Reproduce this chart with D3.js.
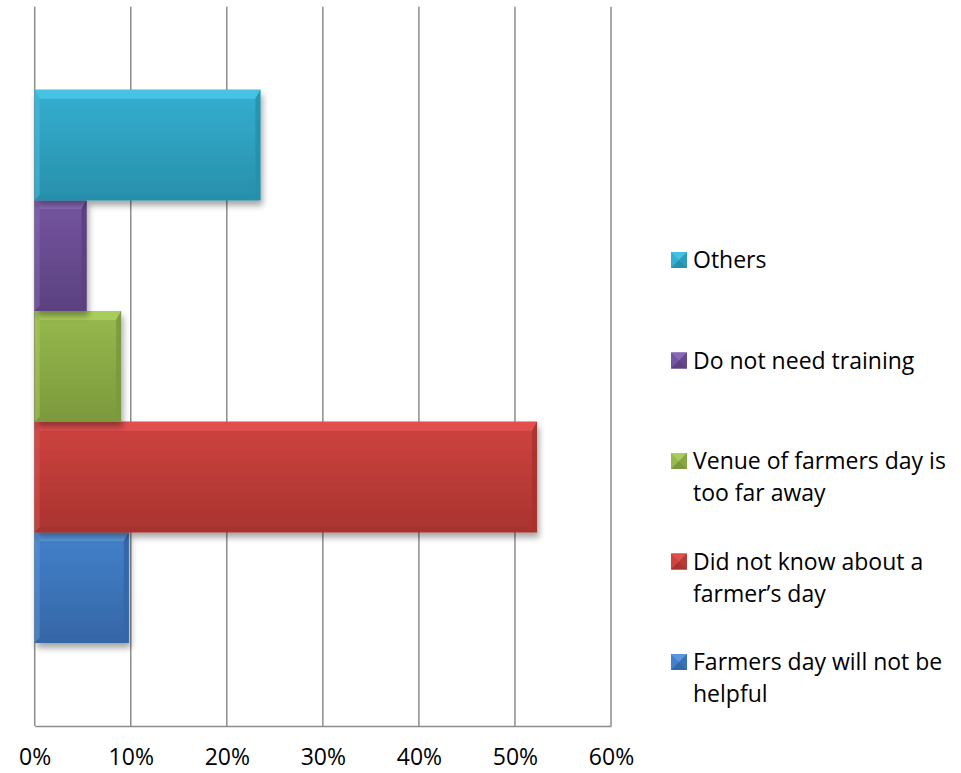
<!DOCTYPE html>
<html>
<head>
<meta charset="utf-8">
<script src="https://cdn.jsdelivr.net/npm/d3@7"></script>
<style>
  html, body { margin: 0; padding: 0; background: #ffffff; }
  svg text { font-family: "Open Sans", "Noto Sans", sans-serif; fill: #000; }
</style>
</head>
<body>
<svg id="chart" width="961" height="773"></svg>
<script>
// Reasons for not attending a farmers day (share of respondents, %)
const series = [
  "Farmers day will not be helpful",
  "Did not know about a farmer’s day",
  "Venue of farmers day is too far away",
  "Do not need training",
  "Others"
];
const values = [9.8, 52.3, 9.0, 5.4, 23.5];
const tickValues = [0, 10, 20, 30, 40, 50, 60];
const tickLabels = ["0%", "10%", "20%", "30%", "40%", "50%", "60%"];

// Office-style series palette: [top tint, base, bottom shade]
const palette = [
  ["#5a97dc", "#4281cb", "#3566a6"],
  ["#e0504d", "#cf4340", "#a8332f"],
  ["#a9cd5c", "#97b94d", "#7b993c"],
  ["#8869b5", "#74559f", "#5b4180"],
  ["#44c2e4", "#35aed0", "#2890ab"]
];

const svg = d3.select("#chart");
const W = 961, H = 773;
svg.append("rect").attr("width", W).attr("height", H).attr("fill", "#fff");

const plot = { left: 34.7, right: 611, top: 6.7, bottom: 726 };
const fontSize = 23;

const x = d3.scaleLinear().domain([0, 60]).range([plot.left, plot.right]);
// 150% gap: outer padding of 0.75 bar heights on each side
const order = d3.range(series.length).reverse();   // "Others" on top
const y = d3.scaleBand()
  .domain(order)
  .range([plot.top, plot.bottom])
  .paddingInner(0)
  .paddingOuter(0.75);

const defs = svg.append("defs");
const shadow = defs.append("filter").attr("id", "barShadow")
  .attr("x", "-10%").attr("y", "-10%").attr("width", "130%").attr("height", "140%");
shadow.append("feGaussianBlur").attr("in", "SourceAlpha").attr("stdDeviation", 3).attr("result", "b");
shadow.append("feOffset").attr("in", "b").attr("dx", 2).attr("dy", 5).attr("result", "o");
shadow.append("feComponentTransfer").attr("in", "o").attr("result", "s")
  .append("feFuncA").attr("type", "linear").attr("slope", 0.35);
const merge = shadow.append("feMerge");
merge.append("feMergeNode").attr("in", "s");
merge.append("feMergeNode").attr("in", "SourceGraphic");

palette.forEach((p, i) => {
  const g = defs.append("linearGradient").attr("id", "grad" + i)
    .attr("x1", 0).attr("y1", 0).attr("x2", 0).attr("y2", 1);
  g.append("stop").attr("offset", "0%").attr("stop-color", p[1]);
  g.append("stop").attr("offset", "100%").attr("stop-color", p[2]);
});

// Grid lines
svg.append("g").selectAll("line")
  .data(tickValues)
  .join("line")
  .attr("x1", d => x(d)).attr("x2", d => x(d))
  .attr("y1", plot.top).attr("y2", plot.bottom)
  .attr("stroke", "#8c8c8c").attr("stroke-width", 1.5);

// Bottom axis with percentage labels
const axis = svg.append("g")
  .attr("transform", `translate(0,${plot.bottom})`)
  .call(d3.axisBottom(x).tickValues(tickValues)
    .tickFormat((d, i) => tickLabels[i]).tickSize(0).tickPadding(0));
axis.select(".domain").attr("stroke", "#8c8c8c").attr("stroke-width", 1.5);
axis.selectAll("text")
  .attr("y", 39).attr("dy", 0)
  .style("font-family", "'Open Sans', 'Noto Sans', sans-serif")
  .style("font-size", fontSize + "px").attr("fill", "#000");

// Bevelled bars
const bars = svg.append("g").selectAll("g.bar")
  .data(values.map((v, i) => ({ v, i })))
  .join("g").attr("class", "bar")
  .attr("filter", "url(#barShadow)");

bars.each(function (d) {
  const g = d3.select(this);
  const x0 = x(0), x1 = x(d.v);
  const y0 = y(d.i), y1 = y0 + y.bandwidth();
  const bt = 9, bs = 5;
  const p = palette[d.i];
  g.append("rect")
    .attr("x", x0).attr("y", y0)
    .attr("width", x1 - x0).attr("height", y1 - y0)
    .attr("fill", `url(#grad${d.i})`);
  // top highlight
  g.append("polygon")
    .attr("points", [[x0, y0], [x1, y0], [x1 - bs, y0 + bt], [x0 + bs, y0 + bt]].join(" "))
    .attr("fill", p[0]);
  // left facet
  g.append("polygon")
    .attr("points", [[x0, y0], [x0 + bs, y0 + bt], [x0 + bs, y1 - bs], [x0, y1]].join(" "))
    .attr("fill", p[0]).attr("opacity", 0.5);
  // right facet
  g.append("polygon")
    .attr("points", [[x1, y0], [x1, y1], [x1 - bs, y1 - bs], [x1 - bs, y0 + bt]].join(" "))
    .attr("fill", p[2]).attr("opacity", 0.9);
  // bottom facet
  g.append("polygon")
    .attr("points", [[x0, y1], [x1, y1], [x1 - bs, y1 - bs], [x0 + bs, y1 - bs]].join(" "))
    .attr("fill", p[2]);
});

// Legend
const legend = svg.append("g");
const legendX = 671, legendTextX = 693, maxTextW = 262;
const legendRow = d3.scaleLinear().domain([0, 4]).range([268, 670]);

order.forEach((si, row) => {
  const base = legendRow(row);
  const p = palette[si];
  const s = 16, c = s / 2;
  const m = legend.append("g").attr("transform", `translate(${legendX},${base - s})`);
  m.append("rect").attr("width", s).attr("height", s).attr("fill", p[1]);
  m.append("polygon").attr("points", [[0, 0], [s, 0], [c, c]].join(" ")).attr("fill", p[0]);
  m.append("polygon").attr("points", [[0, s], [s, s], [c, c]].join(" ")).attr("fill", p[2]);
  m.append("polygon").attr("points", [[s, 0], [s, s], [c, c]].join(" ")).attr("fill", p[2]).attr("opacity", 0.6);

  const t = legend.append("text")
    .attr("x", legendTextX).attr("y", base)
    .style("font-size", fontSize + "px");
  // word wrap into the space right of the marker
  const words = series[si].split(" ");
  let line = [], lineNo = 0;
  let tspan = t.append("tspan").attr("x", legendTextX).attr("y", base);
  words.forEach(w => {
    line.push(w);
    tspan.text(line.join(" "));
    if (tspan.node().getComputedTextLength() > maxTextW && line.length > 1) {
      line.pop();
      tspan.text(line.join(" "));
      line = [w];
      lineNo++;
      tspan = t.append("tspan").attr("x", legendTextX).attr("y", base + lineNo * 32).text(w);
    }
  });
});
</script>
</body>
</html>
